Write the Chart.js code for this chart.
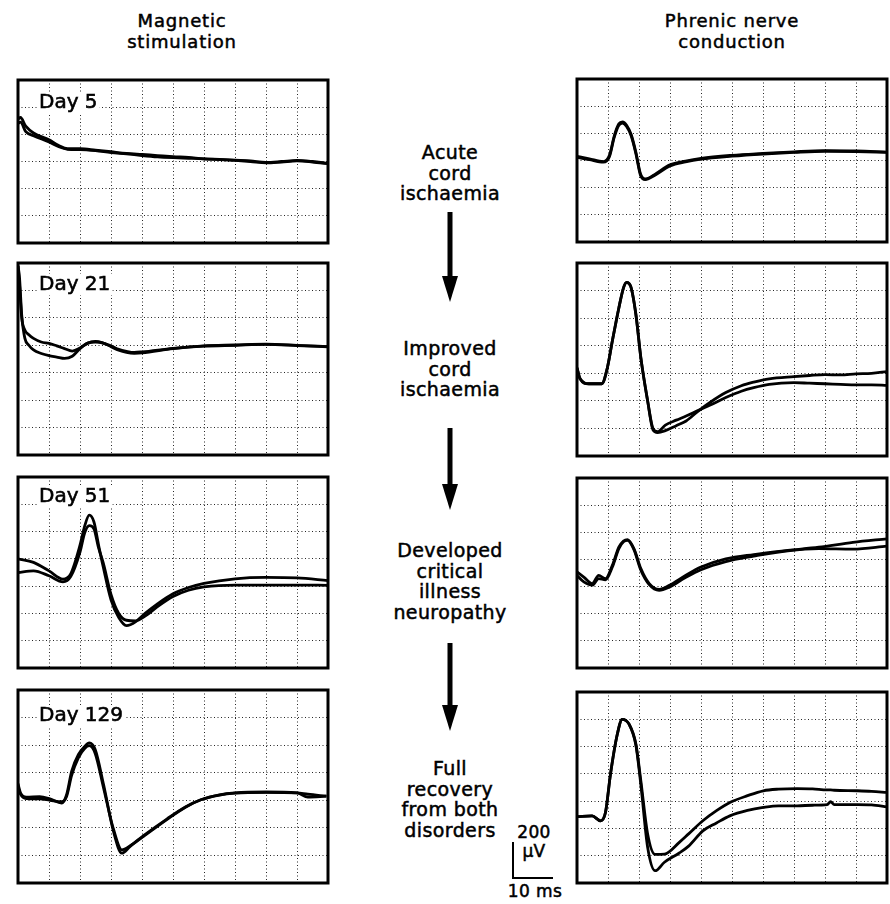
<!DOCTYPE html>
<html>
<head>
<meta charset="utf-8">
<script src="https://cdn.jsdelivr.net/npm/chart.js@4/dist/chart.umd.min.js"></script>
<style>
  html, body { margin: 0; padding: 0; background: #fff; }
  body { width: 890px; height: 904px; position: relative; overflow: hidden;
         font-family: "DejaVu Sans", sans-serif; color: #000; }
  canvas { position: absolute; }
  .txt { position: absolute; text-align: center; font-size: 19px; line-height: 20.5px; letter-spacing: 0.4px;
         -webkit-text-stroke: 0.5px #000; }
  .title { font-size: 18px; line-height: 21px; letter-spacing: 0.8px; width: 260px; }
  .mid { left: 350px; width: 200px; }
  .arrow { position: absolute; }
  .bar { position: absolute; background: #000; }
</style>
</head>
<body>

<div class="txt title" style="left:52px; top:10px;">Magnetic<br>stimulation</div>
<div class="txt title" style="left:602px; top:10px;">Phrenic nerve<br>conduction</div>

<div class="txt mid" style="top:142px;">Acute<br>cord<br>ischaemia</div>
<div class="txt mid" style="top:338px;">Improved<br>cord<br>ischaemia</div>
<div class="txt mid" style="top:540px;">Developed<br>critical<br>illness<br>neuropathy</div>
<div class="txt mid" style="top:758px;">Full<br>recovery<br>from both<br>disorders</div>

<svg class="arrow" style="left:440px; top:212px;" width="20" height="92"><rect x="7.5" y="0" width="5" height="70" fill="#000"/><polygon points="2,64 18,64 10,90" fill="#000"/></svg>
<svg class="arrow" style="left:440px; top:428px;" width="20" height="84"><rect x="7.5" y="0" width="5" height="62" fill="#000"/><polygon points="2,56 18,56 10,82" fill="#000"/></svg>
<svg class="arrow" style="left:440px; top:643px;" width="20" height="90"><rect x="7.5" y="0" width="5" height="68" fill="#000"/><polygon points="2,62 18,62 10,88" fill="#000"/></svg>

<!-- calibration bar -->
<div class="txt" style="left:514px; top:823px; width:40px; font-size:17px; line-height:18px;">200</div>
<div class="txt" style="left:514px; top:842px; width:40px; font-size:17px; line-height:18px;">µV</div>
<div class="bar" style="left:512px; top:842px; width:2px; height:37px;"></div>
<div class="bar" style="left:512px; top:877px; width:41px; height:2px;"></div>
<div class="txt" style="left:505px; top:882px; width:60px; font-size:17px; line-height:18px;">10 ms</div>

<canvas id="magDay5"></canvas>
<canvas id="magDay21"></canvas>
<canvas id="magDay51"></canvas>
<canvas id="magDay129"></canvas>
<canvas id="phrDay5"></canvas>
<canvas id="phrDay21"></canvas>
<canvas id="phrDay51"></canvas>
<canvas id="phrDay129"></canvas>

<script>
  'use strict';

  // Time axis in screen divisions (10 per trace), amplitude in vertical divisions.
  // Day 5, magnetic stimulation
  const magDay5X = [0, 0.08, 0.25, 0.5, 1.0, 1.3, 1.6, 2.0, 2.5, 3.0, 3.5, 4.0, 4.5, 5.0, 5.5, 6.0, 6.5, 7.0, 7.5, 8.0, 8.5, 9.0, 9.5, 10];
  const magDay5A = [4.55, 4.62, 4.3, 4.05, 3.8, 3.6, 3.47, 3.47, 3.42, 3.36, 3.3, 3.26, 3.22, 3.18, 3.15, 3.1, 3.08, 3.05, 3.02, 2.97, 3.0, 3.04, 3.0, 2.93];
  const magDay5B = [4.4, 4.45, 4.1, 3.95, 3.72, 3.55, 3.45, 3.44, 3.4, 3.33, 3.28, 3.22, 3.17, 3.14, 3.12, 3.1, 3.07, 3.04, 3.0, 2.95, 2.98, 3.02, 2.98, 2.92];

  // Day 21, magnetic stimulation
  const magDay21X = [0, 0.05, 0.12, 0.22, 0.35, 0.5, 0.75, 1.0, 1.25, 1.5, 1.75, 2.0, 2.25, 2.5, 2.75, 3.0, 3.25, 3.5, 3.75, 4.0, 5.0, 6.0, 7.0, 8.0, 9.0, 10];
  const magDay21A = [6.9, 6.2, 5.0, 4.56, 4.38, 4.25, 4.12, 4.07, 3.98, 3.88, 3.79, 3.9, 4.08, 4.14, 4.08, 3.98, 3.85, 3.78, 3.74, 3.76, 3.89, 3.98, 4.01, 4.04, 4.0, 3.95];
  const magDay21B = [6.9, 6.45, 5.1, 4.26, 4.0, 3.83, 3.7, 3.62, 3.57, 3.52, 3.6, 3.88, 4.08, 4.12, 4.08, 3.95, 3.82, 3.74, 3.71, 3.72, 3.88, 3.97, 4.0, 4.03, 3.99, 3.94];

  // Day 51, magnetic stimulation
  const magDay51X = [0, 0.5, 1.0, 1.45, 1.7, 2.0, 2.15, 2.3, 2.45, 2.6, 2.75, 3.0, 3.25, 3.5, 3.8, 4.1, 4.5, 5.0, 5.5, 6.0, 7.0, 8.0, 9.0, 10];
  const magDay51A = [4.0, 3.87, 3.56, 3.26, 3.45, 4.5, 5.2, 5.6, 5.35, 4.5, 3.7, 2.5, 1.85, 1.55, 1.7, 2.0, 2.35, 2.72, 2.95, 3.1, 3.27, 3.32, 3.3, 3.2];
  const magDay51B = [3.5, 3.56, 3.38, 3.16, 3.35, 4.25, 4.95, 5.22, 5.1, 4.4, 3.85, 2.7, 2.0, 1.75, 1.73, 1.9, 2.25, 2.62, 2.85, 2.97, 3.04, 3.04, 3.04, 3.03];

  // Day 129, magnetic stimulation
  const magDay129X = [0, 0.08, 0.27, 0.7, 1.03, 1.41, 1.57, 1.73, 1.95, 2.15, 2.3, 2.49, 2.76, 3.08, 3.35, 3.62, 4.05, 4.8, 5.4, 5.9, 6.5, 7.0, 8.0, 9.0, 9.35, 9.95];
  const magDay129A = [3.6, 3.27, 3.11, 3.13, 3.05, 2.9, 3.21, 4.05, 4.66, 4.95, 5.08, 4.84, 3.57, 1.87, 1.08, 1.33, 1.69, 2.3, 2.75, 3.02, 3.2, 3.27, 3.3, 3.27, 3.22, 3.15];
  const magDay129B = [3.5, 3.22, 3.06, 3.05, 3.0, 2.95, 3.15, 3.9, 4.55, 4.88, 4.98, 4.7, 3.45, 1.95, 1.2, 1.35, 1.72, 2.32, 2.76, 3.02, 3.19, 3.26, 3.29, 3.27, 3.12, 3.15];

  // Day 5, phrenic nerve conduction
  const phrDay5X = [0, 0.4, 0.85, 1.05, 1.2, 1.35, 1.47, 1.6, 1.75, 1.9, 2.05, 2.2, 2.5, 3.0, 3.5, 4.0, 5.0, 6.0, 7.0, 8.0, 9.0, 10];
  const phrDay5A = [3.15, 3.06, 2.96, 3.2, 3.9, 4.35, 4.42, 4.3, 3.95, 3.3, 2.5, 2.32, 2.48, 2.84, 2.98, 3.08, 3.19, 3.26, 3.32, 3.36, 3.35, 3.31];
  const phrDay5B = [3.12, 3.03, 2.94, 3.15, 3.85, 4.3, 4.38, 4.25, 3.9, 3.25, 2.45, 2.3, 2.45, 2.8, 2.95, 3.05, 3.16, 3.24, 3.3, 3.34, 3.33, 3.3];

  // Day 21, phrenic nerve conduction
  const phrDay21X = [0, 0.1, 0.38, 0.8, 0.98, 1.14, 1.35, 1.5, 1.6, 1.73, 1.9, 2.06, 2.28, 2.45, 2.6, 2.85, 3.2, 3.52, 3.9, 4.3, 4.8, 5.3, 5.7, 6.2, 7.0, 7.5, 8.0, 8.5, 9.0, 9.5, 10];
  const phrDay21A = [3.2, 2.8, 2.62, 2.62, 3.2, 4.17, 5.37, 6.1, 6.3, 6.16, 5.13, 3.56, 1.99, 1.0, 0.88, 1.12, 1.3, 1.45, 1.65, 1.85, 2.12, 2.35, 2.48, 2.6, 2.66, 2.64, 2.62, 2.6, 2.58, 2.58, 2.56];
  const phrDay21B = [3.2, 2.8, 2.62, 2.62, 3.2, 4.17, 5.37, 6.1, 6.3, 6.16, 5.13, 3.56, 1.99, 0.95, 0.85, 0.92, 1.1, 1.27, 1.62, 1.95, 2.3, 2.55, 2.68, 2.8, 2.88, 2.92, 2.95, 2.94, 2.98, 3.0, 3.06];

  // Day 51, phrenic nerve conduction
  const phrDay51X = [0, 0.22, 0.49, 0.7, 0.92, 1.14, 1.35, 1.5, 1.63, 1.84, 2.06, 2.33, 2.65, 2.98, 3.5, 4.0, 4.8, 5.7, 6.8, 7.8, 8.9, 10];
  const phrDay51A = [3.54, 3.35, 3.11, 3.41, 3.29, 3.78, 4.45, 4.68, 4.73, 4.39, 3.66, 3.11, 2.9, 3.05, 3.41, 3.72, 4.02, 4.18, 4.33, 4.45, 4.63, 4.76];
  const phrDay51B = [3.41, 3.17, 3.05, 3.29, 3.25, 3.72, 4.4, 4.65, 4.7, 4.35, 3.6, 3.07, 2.86, 2.98, 3.33, 3.62, 3.92, 4.12, 4.32, 4.4, 4.38, 4.49];

  // Day 129, phrenic nerve conduction
  const phrDay129X = [0, 0.49, 0.76, 0.92, 1.08, 1.3, 1.46, 1.68, 1.9, 2.06, 2.28, 2.52, 2.82, 3.3, 3.6, 4.06, 4.5, 4.93, 5.5, 6.01, 6.5, 7.1, 7.6, 8.07, 8.18, 8.3, 9.05, 9.5, 10];
  const phrDay129A = [2.43, 2.46, 2.28, 2.59, 3.99, 5.45, 6.0, 5.82, 5.09, 3.74, 1.79, 1.05, 1.06, 1.49, 1.8, 2.28, 2.65, 2.95, 3.2, 3.38, 3.44, 3.46, 3.45, 3.41, 3.41, 3.4, 3.38, 3.36, 3.32];
  const phrDay129B = [2.43, 2.46, 2.28, 2.59, 3.99, 5.45, 6.0, 5.82, 5.05, 3.6, 1.3, 0.45, 0.76, 1.1, 1.35, 1.91, 2.2, 2.46, 2.66, 2.77, 2.83, 2.83, 2.85, 2.87, 2.98, 2.87, 2.87, 2.86, 2.79];

  /**
   * Screen frame and day label, drawn over the traces.
   */
  const scopeFrame = {
    id: 'scopeFrame',
    afterDraw: function (chart, args, opts) {
      const ctx = chart.ctx;
      const a = chart.chartArea;
      ctx.save();
      if (opts.label) {
        ctx.font = '20px "DejaVu Sans"';
        const w = ctx.measureText(opts.label).width;
        ctx.fillStyle = '#fff';
        ctx.fillRect(a.left + 19, a.top + opts.labelY - 16, w + 4, 21);
        ctx.fillStyle = '#000';
        ctx.strokeStyle = '#000';
        ctx.lineWidth = 0.6;
        ctx.fillText(opts.label, a.left + 21, a.top + opts.labelY);
        ctx.strokeText(opts.label, a.left + 21, a.top + opts.labelY);
      }
      ctx.lineWidth = 3;
      ctx.strokeStyle = '#000';
      ctx.strokeRect(a.left, a.top, a.right - a.left, a.bottom - a.top);
      ctx.restore();
    }
  };

  function toPoints(xs, ys) {
    return xs.map(function (x, i) { return { x: x, y: ys[i] }; });
  }

  /**
   * Render one oscilloscope panel with two superimposed traces.
   */
  function renderScope(canvasId, box, xs, ya, yb, label, labelY) {
    const pad = 3;
    const canvas = document.getElementById(canvasId);
    canvas.width = box.w + pad * 2;
    canvas.height = box.h + pad * 2;
    canvas.style.left = (box.x - pad) + 'px';
    canvas.style.top = (box.y - pad) + 'px';

    const trace = function (ys) {
      return {
        data: toPoints(xs, ys),
        borderColor: '#000',
        borderWidth: 2.8,
        pointRadius: 0,
        fill: false,
        cubicInterpolationMode: 'monotone'
      };
    };
    const grid = {
      color: 'rgba(0, 0, 0, 0.85)',
      lineWidth: 1,
      drawTicks: false
    };

    return new Chart(canvas.getContext('2d'), {
      type: 'line',
      data: { datasets: [trace(ya), trace(yb)] },
      plugins: [scopeFrame],
      options: {
        responsive: false,
        animation: false,
        events: [],
        layout: { padding: pad },
        plugins: {
          legend: { display: false },
          tooltip: { enabled: false },
          scopeFrame: { label: label, labelY: labelY }
        },
        scales: {
          x: {
            type: 'linear', min: 0, max: 10,
            ticks: { display: false, stepSize: 1 },
            grid: grid,
            border: { display: false, dash: [1, 2.5] }
          },
          y: {
            type: 'linear', min: 0, max: box.div,
            ticks: { display: false, stepSize: 1 },
            grid: grid,
            border: { display: false, dash: [1, 2.5] }
          }
        }
      }
    });
  }

  renderScope('magDay5', { x: 18, y: 80, w: 310, h: 163, div: 6 }, magDay5X, magDay5A, magDay5B, 'Day 5', 28);
  renderScope('magDay21', { x: 18, y: 263, w: 310, h: 192, div: 7 }, magDay21X, magDay21A, magDay21B, 'Day 21', 27);
  renderScope('magDay51', { x: 18, y: 477, w: 310, h: 191, div: 7 }, magDay51X, magDay51A, magDay51B, 'Day 51', 25);
  renderScope('magDay129', { x: 18, y: 690, w: 310, h: 193, div: 7 }, magDay129X, magDay129A, magDay129B, 'Day 129', 31);
  renderScope('phrDay5', { x: 577, y: 79, w: 310, h: 163, div: 6 }, phrDay5X, phrDay5A, phrDay5B, null, 0);
  renderScope('phrDay21', { x: 577, y: 263, w: 310, h: 193, div: 7 }, phrDay21X, phrDay21A, phrDay21B, null, 0);
  renderScope('phrDay51', { x: 577, y: 478, w: 310, h: 190, div: 7 }, phrDay51X, phrDay51A, phrDay51B, null, 0);
  renderScope('phrDay129', { x: 577, y: 692, w: 310, h: 191, div: 7 }, phrDay129X, phrDay129A, phrDay129B, null, 0);
</script>
</body>
</html>
